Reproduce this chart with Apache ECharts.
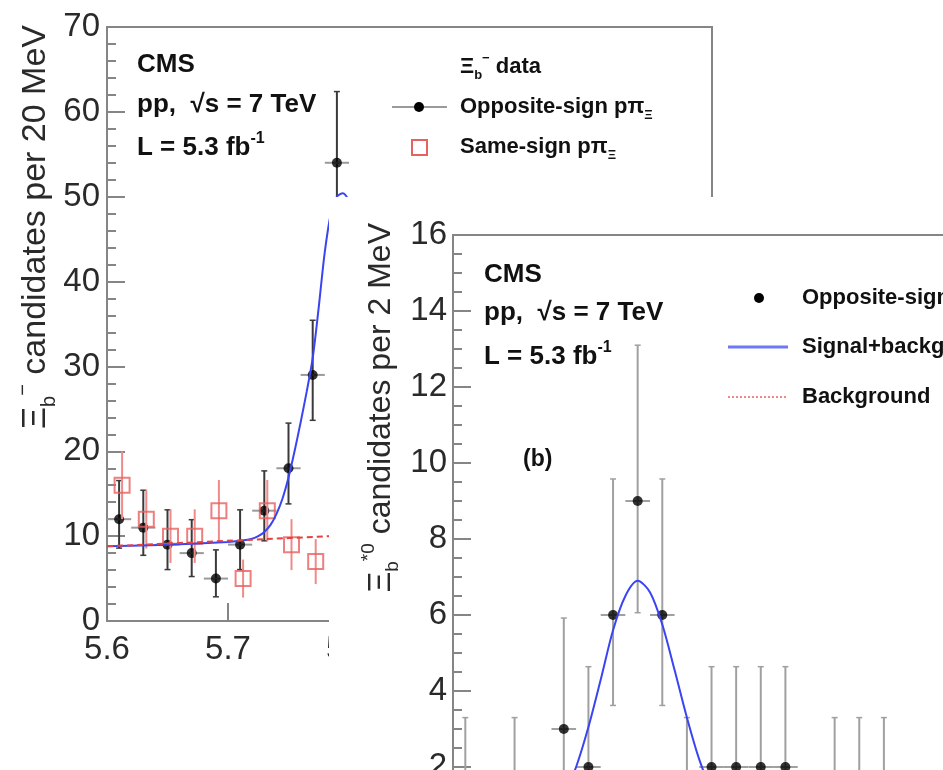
<!DOCTYPE html>
<html>
<head>
<meta charset="utf-8">
<script src="https://cdn.jsdelivr.net/npm/echarts@6/dist/echarts.min.js"></script>
<style>
  html, body { margin: 0; padding: 0; background: #fff; width: 943px; height: 770px; overflow: hidden; }
  #panelA { position: absolute; left: 0; top: 0; width: 943px; height: 770px; }
  /* panel (b) is pasted over the lower right of panel (a) and runs past the window edge */
  #panelB { position: absolute; left: 329px; top: 197px; width: 720px; height: 706px; background: #fff; }
</style>
</head>
<body>
<div id="panelA"></div>
<div id="panelB"></div>
<script>
// ---- panel (a): Xi_b- candidates, 20 MeV bins ----
const massBins   = [5.61, 5.63, 5.65, 5.67, 5.69, 5.71, 5.73, 5.75, 5.77, 5.79];
const oppCounts  = [12, 11, 9, 8, 5, 9, 13, 18, 29, 54];
const oppLow     = [8.59, 7.74, 6.06, 5.24, 2.85, 6.06, 9.45, 13.8, 23.65, 46.68];
const oppHigh    = [16.55, 15.41, 13.1, 11.94, 8.38, 13.1, 17.69, 23.32, 35.44, 62.39];
const sameCounts = [16, 12, 10, 10, 13, 5, 13, 9, 7, 14];
const sameLow    = [12, 8.54, 6.84, 6.84, 9.39, 2.76, 9.39, 6, 4.35, 10.26];
const sameHigh   = [20, 15.46, 13.16, 13.16, 16.61, 7.24, 16.61, 12, 9.65, 17.74];
const fitMass    = [5.600, 5.650, 5.700, 5.710, 5.720, 5.725, 5.730, 5.735, 5.740, 5.745, 5.750, 5.755, 5.760, 5.765, 5.770, 5.775, 5.780, 5.785, 5.790, 5.795, 5.800];
const fitValues  = [8.8, 9.0, 9.3, 9.45, 9.7, 10.0, 10.5, 11.3, 12.6, 14.4, 16.9, 20.0, 23.4, 27.0, 31.0, 37.0, 43.5, 48.0, 50.0, 50.4, 49.5];
const bkgMass    = [5.60, 5.80];
const bkgValues  = [8.8, 10.1];
const massHalfBin = 0.01;

// ---- panel (b): Xi_b*0 candidates, 2 MeV bins ----
const qBins   = [1, 3, 5, 7, 9, 11, 13, 15, 17, 19, 21, 23, 25, 27, 29, 31, 33, 35, 37, 39, 41, 43];
const qCounts = [1, 0, 1, 0, 3, 2, 6, 9, 6, 1, 2, 2, 2, 2, 0, 1, 1, 1, 0, 0, 0, 0];
const qLow    = [0.17, 0, 0.17, 0, 1.37, 0.71, 3.62, 6.06, 3.62, 0.17, 0.71, 0.71, 0.71, 0.71, 0, 0.17, 0.17, 0.17, 0, 0, 0, 0];
const qHigh   = [3.3, 1.84, 3.3, 1.84, 5.92, 4.64, 9.58, 13.1, 9.58, 3.3, 4.64, 4.64, 4.64, 4.64, 1.84, 3.3, 3.3, 3.3, 1.84, 1.84, 1.84, 1.84];
const qFit      = [0, 4, 7, 8, 9, 10, 11, 12, 13, 14, 15, 16, 17, 18, 19, 20, 21, 22, 23, 26, 30, 40, 45];
const qFitVals  = [0.3, 0.3, 0.5, 0.8, 1.25, 2.0, 3.05, 4.3, 5.6, 6.5, 6.9, 6.6, 5.75, 4.55, 3.3, 2.2, 1.4, 0.9, 0.6, 0.35, 0.3, 0.3, 0.3];
const qBkg      = [0, 45];
const qBkgVals  = [0.3, 0.3];
const qHalfBin = 1;

const FONT = '"Liberation Sans", Arial, Helvetica, sans-serif';
const AXIS_GRAY = '#858585';
const RED = '#e8605f';
const BLUE = '#3a44f2';

function zip(xs, ys) { return xs.map((x, i) => [x, ys[i]]); }

function errorBars(color, halfBin, capHalf, shiftPx, hColor) {
  return function (params, api) {
    const x = api.value(0), lo = api.value(1), hi = api.value(2), v = api.value(3);
    const top = api.coord([x, hi]);
    const bot = api.coord([x, lo]);
    const px = top[0] + shiftPx;
    const kids = [{ type: 'line', shape: { x1: px, y1: top[1], x2: px, y2: bot[1] }, style: { stroke: color, lineWidth: 2 } }];
    if (capHalf > 0) {
      kids.push({ type: 'line', shape: { x1: px - capHalf, y1: top[1], x2: px + capHalf, y2: top[1] }, style: { stroke: color, lineWidth: 1.5 } });
      kids.push({ type: 'line', shape: { x1: px - capHalf, y1: bot[1], x2: px + capHalf, y2: bot[1] }, style: { stroke: color, lineWidth: 1.5 } });
    }
    if (halfBin > 0) {
      const l = api.coord([x - halfBin, v]);
      const r = api.coord([x + halfBin, v]);
      kids.push({ type: 'line', shape: { x1: l[0], y1: l[1], x2: r[0], y2: r[1] }, style: { stroke: hColor, lineWidth: 2 } });
    }
    return { type: 'group', children: kids };
  };
}

// rich text styles (main / subscript / superscript)
function rich(size, bold, color) {
  const w = bold ? 'bold' : 'normal';
  const small = Math.round(size * 0.6);
  return {
    m:   { fontSize: size, fontWeight: w, fontFamily: FONT, fill: color, lineHeight: Math.round(size * 1.35), verticalAlign: 'middle' },
    sub: { fontSize: small, fontWeight: w, fontFamily: FONT, fill: color, lineHeight: small, verticalAlign: 'bottom' },
    sup: { fontSize: small, fontWeight: w, fontFamily: FONT, fill: color, lineHeight: small, verticalAlign: 'top' }
  };
}

function label(x, y, text, size, bold, color, extra) {
  return Object.assign({
    type: 'text', x: x, y: y, z: 50,
    style: {
      text: text, rich: rich(size, bold, color || '#111'),
      fontSize: size, fontFamily: FONT, fontWeight: bold ? 'bold' : 'normal', fill: color || '#111',
      align: 'left', textAlign: 'left', verticalAlign: 'middle', textVerticalAlign: 'middle'
    }
  }, extra || {});
}

function yTitle(x, y, text, size) {
  const t = label(x, y, text, size, false, '#2a2a2a', { rotation: Math.PI / 2 });
  t.style.align = 'right';
  t.style.textAlign = 'right';
  return t;
}

function axisCommon(labelSize, labelMargin) {
  return {
    axisLine: { show: true, lineStyle: { color: AXIS_GRAY, width: 2 } },
    axisTick: { show: true, inside: true, length: 18, lineStyle: { color: AXIS_GRAY, width: 2 } },
    axisLabel: { color: '#2a2a2a', fontSize: labelSize, fontFamily: FONT, margin: labelMargin },
    splitLine: { show: false }
  };
}

// ================= panel (a) =================
const chartA = echarts.init(document.getElementById('panelA'), null, { renderer: 'canvas' });
chartA.setOption({
  animation: false,
  backgroundColor: '#fff',
  grid: { left: 107, top: 27, right: 231, bottom: 149, show: true, borderColor: AXIS_GRAY, borderWidth: 2, outerBoundsMode: 'none' },
  xAxis: Object.assign(axisCommon(33, 12), {
    type: 'value', min: 5.6, max: 6.1, interval: 0.1,
    axisLabel: { color: '#2a2a2a', fontSize: 33, fontFamily: FONT, margin: 12, showMaxLabel: false }
  }),
  yAxis: Object.assign(axisCommon(33, 7), {
    type: 'value', min: 0, max: 70, interval: 10,
    minorTick: { show: true, splitNumber: 5, length: 9, lineStyle: { color: AXIS_GRAY, width: 2 } }
  }),
  series: [
    {
      type: 'custom', clip: true, z: 2,
      renderItem: errorBars('#3a3a3a', massHalfBin, 3, 0, '#9a9a9a'),
      encode: { x: 0, y: [1, 2] },
      data: massBins.map((m, i) => [m, oppLow[i], oppHigh[i], oppCounts[i]])
    },
    {
      type: 'scatter', z: 3, symbol: 'circle', symbolSize: 10,
      itemStyle: { color: '#000' },
      data: zip(massBins, oppCounts)
    },
    {
      type: 'custom', clip: true, z: 4,
      renderItem: errorBars('#f08a8a', 0, 0, 3, null),
      encode: { x: 0, y: [1, 2] },
      data: massBins.map((m, i) => [m, sameLow[i], sameHigh[i], sameCounts[i]])
    },
    {
      type: 'scatter', z: 5, symbol: 'rect', symbolSize: 15, symbolOffset: [3, 0],
      itemStyle: { color: 'rgba(255,255,255,0)', borderColor: RED, borderWidth: 2 },
      data: zip(massBins, sameCounts)
    },
    {
      type: 'line', z: 6, smooth: 0.3, showSymbol: false, symbol: 'none',
      lineStyle: { color: BLUE, width: 2 },
      data: zip(fitMass, fitValues)
    },
    {
      type: 'line', z: 7, showSymbol: false, symbol: 'none',
      lineStyle: { color: '#e84040', width: 2, type: [6, 4] },
      data: zip(bkgMass, bkgValues)
    }
  ],
  graphic: [
    yTitle(36, 25, '{m|Ξ}{sub|b}{sup|−}{m| candidates per 20 MeV}', 34),
    label(137, 65, 'CMS', 26, true),
    label(137, 105, '{m|pp,  √s = 7 TeV}', 26, true),
    label(137, 148, '{m|L = 5.3 fb}{sup|-1}', 26, true),
    label(460, 67, '{m|Ξ}{sub|b}{sup|−}{m| data}', 22, true),
    label(460, 107, '{m|Opposite-sign pπ}{sub|Ξ}', 22, true),
    label(460, 147, '{m|Same-sign pπ}{sub|Ξ}', 22, true),
    { type: 'line', z: 50, shape: { x1: 392, y1: 107, x2: 447, y2: 107 }, style: { stroke: '#9a9a9a', lineWidth: 2 } },
    { type: 'circle', z: 51, shape: { cx: 419, cy: 107, r: 5 }, style: { fill: '#000' } },
    { type: 'rect', z: 50, shape: { x: 412, y: 140, width: 15, height: 15 }, style: { fill: 'none', stroke: RED, lineWidth: 2 } }
  ]
});

// ================= panel (b) =================
const chartB = echarts.init(document.getElementById('panelB'), null, { renderer: 'canvas' });
chartB.setOption({
  animation: false,
  backgroundColor: '#fff',
  grid: { left: 124, top: 38, right: 42, bottom: 60, show: true, borderColor: AXIS_GRAY, borderWidth: 2, outerBoundsMode: 'none' },
  xAxis: Object.assign(axisCommon(33, 12), {
    type: 'value', min: 0, max: 45, interval: 5
  }),
  yAxis: Object.assign(axisCommon(33, 6), {
    type: 'value', min: 0, max: 16, interval: 2,
    minorTick: { show: true, splitNumber: 4, length: 9, lineStyle: { color: AXIS_GRAY, width: 2 } }
  }),
  series: [
    {
      type: 'custom', clip: true, z: 2,
      renderItem: errorBars('#a0a0a0', qHalfBin, 3, 0, '#a0a0a0'),
      encode: { x: 0, y: [1, 2] },
      data: qBins.map((q, i) => [q, qLow[i], qHigh[i], qCounts[i]])
    },
    {
      type: 'scatter', z: 3, symbol: 'circle', symbolSize: 10,
      itemStyle: { color: '#000' },
      data: zip(qBins, qCounts)
    },
    {
      type: 'line', z: 4, smooth: 0.3, showSymbol: false, symbol: 'none',
      lineStyle: { color: BLUE, width: 2 },
      data: zip(qFit, qFitVals)
    },
    {
      type: 'line', z: 5, showSymbol: false, symbol: 'none',
      lineStyle: { color: '#f06060', width: 1.5, type: [2, 2] },
      data: zip(qBkg, qBkgVals)
    }
  ],
  graphic: [
    yTitle(52, 26, '{m|Ξ}{sub|b}{sup|*0}{m| candidates per 2 MeV}', 32),
    label(155, 78, 'CMS', 26, true),
    label(155, 116, '{m|pp,  √s = 7 TeV}', 26, true),
    label(155, 160, '{m|L = 5.3 fb}{sup|-1}', 26, true),
    label(194, 263, '(b)', 23, true),
    { type: 'circle', z: 51, shape: { cx: 430, cy: 101, r: 5 }, style: { fill: '#000' } },
    label(473, 101, '{m|Opposite-sign pπ}{sub|Ξ}', 22, true),
    { type: 'line', z: 50, shape: { x1: 399, y1: 150, x2: 459, y2: 150 }, style: { stroke: '#6f78f4', lineWidth: 3 } },
    label(473, 150, 'Signal+background', 22, true),
    { type: 'line', z: 50, shape: { x1: 399, y1: 200, x2: 459, y2: 200 }, style: { stroke: '#f06060', lineWidth: 1.5, lineDash: [2, 2] } },
    label(473, 200, 'Background', 22, true)
  ]
});
</script>
</body>
</html>
